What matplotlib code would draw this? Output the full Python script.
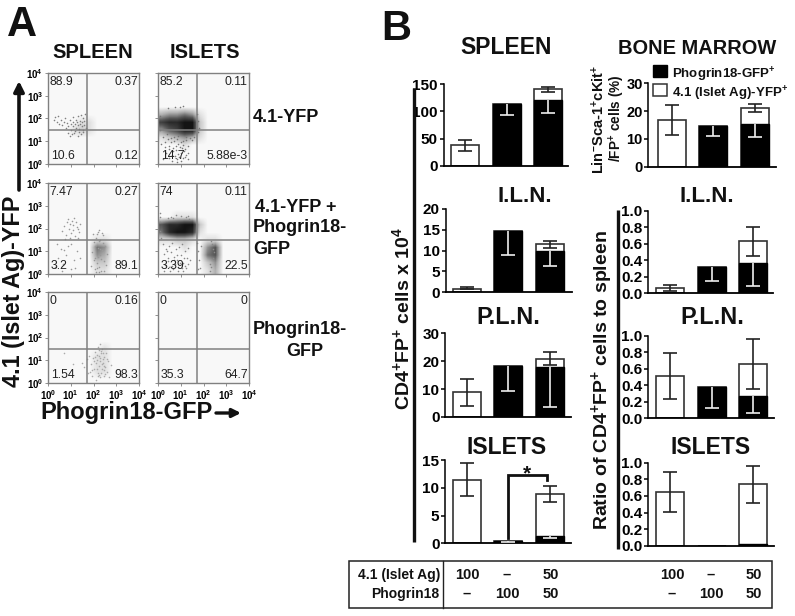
import matplotlib
matplotlib.use('Agg')
import numpy as np
from matplotlib import pyplot as plt
from matplotlib.colors import LinearSegmentedColormap
from matplotlib.patches import Rectangle

plt.rcParams['font.family'] = ['Liberation Sans', 'DejaVu Sans']
plt.rcParams['mathtext.fontset'] = 'custom'
plt.rcParams['mathtext.rm'] = 'Liberation Sans'
plt.rcParams['mathtext.bf'] = 'Liberation Sans:bold'
plt.rcParams['mathtext.it'] = 'Liberation Sans:italic'
plt.rcParams['mathtext.default'] = 'bf'

W, H = 795, 616

# percentages per quadrant: upper left, upper right, lower left, lower right
pct_spleen_a = ['88.9', '0.37', '10.6', '0.12']
pct_islets_a = ['85.2', '0.11', '14.7', '5.88e-3']
pct_spleen_b = ['7.47', '0.27', '3.2', '89.1']
pct_islets_b = ['74', '0.11', '3.39', '22.5']
pct_spleen_c = ['0', '0.16', '1.54', '98.3']
pct_islets_c = ['0', '0', '35.3', '64.7']

dens_spleen_a = ['000000000000', '000000000000', '000000000000', '000000000000', '000000000000',
                 '000000000000', '000011000000', '000121000000', '000000000000', '000000000000',
                 '000000000000', '000000000000']
dens_islets_a = ['000000000000', '000000000000', '000000000000', '000000000000', '000000000000',
                 '344541000000', '788992000000', '467992000000', '123431000000', '000100000000',
                 '000000000000', '000000000000']
dens_spleen_b = ['000000000000', '000000000000', '000000000000', '000000000000', '000000000000',
                 '000000000000', '000000000000', '000000110000', '000000540000', '000000430000',
                 '000000220000', '000000110000']
dens_islets_b = ['000000000000', '000000000000', '000000000000', '000000000000', '001110000000',
                 '688992000000', '589981000000', '112210110000', '000100460000', '000000560000',
                 '000000240000', '000000130000']
dens_spleen_c = ['000000000000', '000000000000', '000000000000', '000000000000', '000000000000',
                 '000000000000', '000000000000', '000000010000', '000000110000', '000000110000',
                 '000000110000', '000000000000']
dens_islets_c = ['000000000000'] * 12

# single dots around the clouds (log10 units)
dots_spleen_a_x = [.25, .32, .4, .45, .5, .55, .62, .7, .75, .8, .85, .9, .95, 1.0, 1.02, 1.08, 1.1, 1.12, 1.18,
                   1.2, 1.22, 1.25, 1.28, 1.3, 1.33, 1.35, 1.38, 1.4, 1.42, 1.45, 1.48, 1.5, 1.52, 1.55, 1.58,
                   1.6, 1.62, 1.65, 1.05, 1.15, 1.3, 1.44, 1.56, .88, .98]
dots_spleen_a_y = [1.95, 2.05, 1.85, 2.1, 1.75, 1.95, 1.7, 1.85, 2.0, 1.6, 1.8, 1.65, 1.95, 1.75, 1.5, 1.85, 1.65,
                   2.05, 1.45, 1.75, 1.95, 1.6, 1.85, 2.1, 1.7, 1.4, 1.55, 1.9, 1.75, 2.15, 1.65, 1.85, 1.5, 2.0,
                   1.7, 1.9, 2.2, 1.6, 1.3, 1.35, 1.25, 1.33, 1.42, 1.38, 1.22]
dots_islets_a_x = [.2, .3, .42, .5, .58, .66, .72, .8, .88, .95, 1.02, 1.1, 1.18, 1.25, 1.32, .35, .47, .6, .74, .84,
                   .92, 1.0, 1.08, 1.15, 1.22, .4, .55, .7, .82, .9, 1.05, 1.2, .3, .5, .65, .78, 1.0, 1.12, .6, 1.3,
                   1.75, 1.8, 1.72, 1.78, .1, .08, .12, .95, .45, .75, 1.1, .85, 1.3, 1.42, 1.5, 1.6, .2, .9, 1.25]
dots_islets_a_y = [1.2, .95, 1.1, .8, 1.15, .7, 1.0, .6, .9, .75, .5, .85, .65, 1.05, .8, .5, .65, .4, .35, 1.1,
                   .3, .95, .25, .55, .4, 1.3, .95, 1.2, .2, .45, .7, .3, .75, .25, .55, .8, .15, 1.0, .12, .5,
                   1.9, 1.6, 2.2, 1.4, 2.1, 1.5, .9, 2.5, 2.45, 2.5, 2.55, .1, .2, 1.15, 1.05, 1.2, .2, 1.25, 1.2]
dots_spleen_b_x = [.6, .7, .8, .85, .92, 1.0, 1.05, 1.12, 1.2, 1.28, 1.35, 1.42, .75, .88, .98, 1.1, 1.22, 1.32, .95,
                   1.15, 1.3, .3, .45, .55, .68, .8, .9, 1.02, 1.15, 1.28, .4, .6, .72, 1.0, 1.2, 1.4,
                   1.9, 1.95, 2.0, 2.05, 2.08, 2.1, 2.15, 2.18, 2.2, 2.25, 2.28, 2.3, 2.35, 2.38, 2.4, 2.45, 2.5, 2.55,
                   2.6, 1.98, 2.12, 2.22, 2.32, 2.42, 2.02, 2.16, 2.26, 2.36, 2.48, 2.05, 2.2, 2.3, 2.15, 2.25]
dots_spleen_b_y = [1.9, 2.1, 1.7, 2.3, 2.0, 1.8, 2.35, 2.15, 1.65, 2.05, 1.85, 2.2, 1.55, 2.4, 1.6, 1.95, 2.3, 1.6,
                   2.2, 2.45, 2.0, .3, .7, 1.1, .45, .85, 1.25, .2, .6, 1.0, 1.3, .15, 1.05, 1.3, .25, .7,
                   .35, .95, 1.4, .2, .7, 1.6, .5, 1.15, 1.85, .3, .85, 1.5, .15, 1.05, 1.7, .55, 1.25, .4,
                   .9, 1.75, .1, 1.95, .65, 1.35, .6, 1.75, .1, 1.8, .15, 1.25, .75, 1.1, .25, 1.45]
dots_islets_b_x = [.2, .28, .35, .42, .5, .56, .62, .7, .78, .85, .92, 1.0, 1.06, 1.12, 1.2, 1.26, 1.34, 1.4, .3, .46,
                   .6, .74, .88, 1.04, 1.18, 1.3, .38, .52, .68, .82, .96, 1.1, 1.24, .25, .48, .72, .9, 1.15,
                   .1, .08, .07, .11, .09, 1.3, .55, .78, 1.0, 1.25, 1.38, .66, .44,
                   1.75, 1.8, 1.85, 2.35, 2.4, 2.42, 2.38, 2.3, 2.45, 1.72, 1.78, 1.88, 2.3, 2.35]
dots_islets_b_y = [1.3, .9, 1.1, .7, 1.25, .95, 1.35, .75, 1.1, .6, 1.2, .85, 1.3, .5, 1.0, .7, 1.15, .6, .4, .55,
                   .35, .45, .3, .25, .35, .45, 1.0, .15, .2, .85, .5, .15, .25, .15, .3, .6, .12, .7,
                   2.3, 2.5, 2.7, 1.6, 1.9, 2.55, 2.5, 2.6, 2.55, 2.5, 2.4, 2.45, 2.45,
                   1.0, .6, .25, .3, .7, 1.1, 1.3, .15, .95, 1.35, .2, 1.25, .45, 1.45]
dots_spleen_c_x = [1.5, 1.6, 1.7, 1.75, 1.82, 1.88, 1.92, 1.98, 2.02, 2.05, 2.1, 2.12, 2.16, 2.2, 2.22, 2.25, 2.28, 2.3,
                   2.33, 2.36, 2.38, 2.42, 2.45, 2.48, 2.52, 2.55, 2.6, 2.65, 2.7, 2.78, 1.95, 2.08, 2.18, 2.27, 2.35,
                   2.44, 2.58, 2.0, 2.14, 2.24, 2.32, 2.4, 2.5, 1.85, 2.2, 2.3, 2.42, 2.15, 2.26, 2.36, 2.46, .7, 1.1]
dots_spleen_c_y = [.9, .7, 1.05, .45, 1.2, .85, .3, 1.1, .6, 1.35, .15, .9, 1.25, .45, 1.45, .75, 1.1, .25, 1.3, .6,
                   1.5, .9, .3, 1.15, .7, 1.3, .5, .95, .25, .8, .55, 1.15, .3, .95, 1.4, .55, 1.05, .95, .6, 1.2,
                   .45, 1.05, .4, .5, 1.6, 1.7, 1.3, 1.0, .35, .85, .75, 1.3, .85]

spleen_black = [0, 113, 121]
spleen_total = [38, 113, 140]
spleen_upper = [48, np.nan, 145]
spleen_lower = [28, np.nan, 136]
spleen_black_lower = [np.nan, 94, 97]

iln_black = [0, 14.8, 9.8]
iln_total = [0.9, 14.8, 11.5]
iln_upper = [1.2, np.nan, 12.3]
iln_lower = [0.7, np.nan, 10.6]
iln_black_lower = [np.nan, 9, 6.3]

pln_black = [0, 18.4, 17.8]
pln_total = [8.8, 18.4, 20.8]
pln_upper = [13.6, np.nan, 23.2]
pln_lower = [4, np.nan, 18.5]
pln_black_lower = [np.nan, 9.3, 3.7]

islets_black = [0, 0.4, 1.3]
islets_total = [11.4, 0.4, 8.9]
islets_upper = [14.4, np.nan, 10.3]
islets_lower = [8.5, np.nan, 7.5]
islets_black_lower = [np.nan, 0.3, 1.0]

bm_black = [0, 14.7, 15.3]
bm_total = [16.8, 14.7, 21]
bm_upper = [22.2, np.nan, 22.5]
bm_lower = [11.5, np.nan, 19.5]
bm_black_lower = [np.nan, 11, 10.7]

ratio_iln_black = [0, 0.32, 0.37]
ratio_iln_total = [0.07, 0.32, 0.63]
ratio_iln_upper = [0.10, np.nan, 0.80]
ratio_iln_lower = [0.03, np.nan, 0.45]
ratio_iln_black_lower = [np.nan, 0.15, 0.09]

ratio_pln_black = [0, 0.38, 0.27]
ratio_pln_total = [0.51, 0.38, 0.66]
ratio_pln_upper = [0.79, np.nan, 0.96]
ratio_pln_lower = [0.23, np.nan, 0.36]
ratio_pln_black_lower = [np.nan, 0.12, 0.07]

ratio_islets_black = [0, 0, 0.02]
ratio_islets_total = [0.65, 0, 0.74]
ratio_islets_upper = [0.89, np.nan, 0.96]
ratio_islets_lower = [0.41, np.nan, 0.51]
ratio_islets_black_lower = [np.nan, np.nan, np.nan]

row1_values = ['100', '\u2013', '50']
row2_values = ['\u2013', '100', '50']

fig = plt.figure(figsize=(W / 100, H / 100), dpi=100)
facs_cmap = LinearSegmentedColormap.from_list('facs', ['#f8f8f8', '#b0b0b0', '#555555', '#141414'])


def box(l, t, r, b):
    # axes placed with pixel coordinates of the picture
    return fig.add_axes([l / W, 1 - b / H, (r - l) / W, (b - t) / H])


def facs_panel(l, t, pct, dens, dots=None, dot_color='#888888', gate_x=1.7, gate_y=1.5,
               show_x=False, show_y=False):
    ax = box(l, t, l + 91, t + 91)
    grid = np.array([[int(c) for c in row] for row in dens])
    ax.imshow(grid, extent=[0, 4, 0, 4], cmap=facs_cmap, vmin=0, vmax=9,
              interpolation='bilinear', aspect='auto', zorder=1)
    if dots is not None:
        ax.scatter(dots[0], dots[1], s=1.3, color=dot_color, linewidths=0, zorder=2)
    ax.axvline(gate_x, color='#808080', lw=1.1, zorder=2)
    ax.axhline(gate_y, color='#808080', lw=1.1, zorder=2)
    ax.set_xlim(0, 4)
    ax.set_ylim(0, 4)
    for s in ax.spines.values():
        s.set_color('#808080')
        s.set_linewidth(1.0)
    ax.set_xticks(range(5))
    ax.set_yticks(range(5))
    ax.set_xticklabels(['$10^{%d}$' % i for i in range(5)] if show_x else [], fontsize=7)
    ax.set_yticklabels(['$10^{%d}$' % i for i in range(5)] if show_y else [], fontsize=7)
    ax.tick_params(length=2, width=0.6, color='#808080', pad=1.5)
    ax.text(0.06, 3.62, pct[0], fontsize=8.8, color='#222222', ha='left', va='center', zorder=3)
    ax.text(3.95, 3.62, pct[1], fontsize=8.8, color='#222222', ha='right', va='center', zorder=3)
    ax.text(0.12, 0.36, pct[2], fontsize=8.8, color='#222222', ha='left', va='center', zorder=3)
    ax.text(3.95, 0.36, pct[3], fontsize=8.8, color='#222222', ha='right', va='center', zorder=3)


def bar_panel(l, t, r, b, centers, ymax, ticks, black, total, upper, lower, black_lower,
              fmt='%d', width=28, tick_size=11):
    ax = box(l, t, r, b)
    step = (centers[2] - centers[0]) / 2
    ax.set_xlim((l - centers[0]) / step, (r - centers[0]) / step)
    ax.set_ylim(0, ymax)
    x = np.arange(3)
    w = width / step
    total = np.array(total, dtype=float)
    black = np.array(black, dtype=float)
    upper = np.array(upper, dtype=float)
    lower = np.array(lower, dtype=float)
    black_lower = np.array(black_lower, dtype=float)
    ax.bar(x, total, width=w, color='white', edgecolor='#333333', linewidth=1.2, zorder=1)
    ax.bar(x, black, width=w, color='black', edgecolor='black', linewidth=1.0, zorder=2)
    # whiskers only where the picture has them
    ok = ~np.isnan(upper)
    ax.errorbar(x[ok], total[ok], yerr=[total[ok] - lower[ok], upper[ok] - total[ok]], fmt='none',
                ecolor='#222222', elinewidth=1.2, capsize=5, capthick=1.2, zorder=3)
    ok = ~np.isnan(black_lower)
    ax.vlines(x[ok], black_lower[ok], black[ok], color='#eeeeee', lw=1.2, zorder=3)
    ax.plot(x[ok], black_lower[ok], ls='none', marker='_', ms=10, mew=1.2, color='#eeeeee', zorder=3)
    for s in ['top', 'right']:
        ax.spines[s].set_visible(False)
    ax.spines['left'].set_linewidth(1.1)
    ax.spines['bottom'].set_linewidth(1.3)
    ax.set_xticks([])
    ax.set_yticks(ticks)
    ax.set_yticklabels([fmt % v for v in ticks], fontsize=tick_size, fontweight='bold')
    ax.tick_params(axis='y', length=3, width=1.1, pad=1)
    ax.patch.set_alpha(0)
    return ax


# panel A
facs_panel(48, 73, pct_spleen_a, dens_spleen_a, (dots_spleen_a_x, dots_spleen_a_y), '#808080', show_y=True)
facs_panel(158, 73, pct_islets_a, dens_islets_a, (dots_islets_a_x, dots_islets_a_y), '#777777')
facs_panel(48, 183, pct_spleen_b, dens_spleen_b, (dots_spleen_b_x, dots_spleen_b_y), '#999999', show_y=True)
facs_panel(158, 183, pct_islets_b, dens_islets_b, (dots_islets_b_x, dots_islets_b_y), '#888888')
facs_panel(48, 292, pct_spleen_c, dens_spleen_c, (dots_spleen_c_x, dots_spleen_c_y), '#aaaaaa', show_x=True, show_y=True)
facs_panel(158, 292, pct_islets_c, dens_islets_c, show_x=True)

# panel B, left column
c1 = [465, 506.5, 548]
c2 = [466.5, 508, 549.5]
c3 = [671.7, 713.5, 755]
c4 = [670.3, 711.6, 753]
bar_panel(443.5, 84, 568, 166, c1, 150, [0, 50, 100, 150],
          spleen_black, spleen_total, spleen_upper, spleen_lower, spleen_black_lower)
bar_panel(445.5, 209, 571.5, 292.3, c2, 20, [0, 5, 10, 15, 20],
          iln_black, iln_total, iln_upper, iln_lower, iln_black_lower)
bar_panel(445, 333.3, 571, 417, c2, 30, [0, 10, 20, 30],
          pln_black, pln_total, pln_upper, pln_lower, pln_black_lower)
bar_panel(445, 460, 571, 543.3, c2, 15, [0, 5, 10, 15],
          islets_black, islets_total, islets_upper, islets_lower, islets_black_lower)

# panel B, right column
ratio_ticks = [0, 0.2, 0.4, 0.6, 0.8, 1.0]
bar_panel(648.3, 83.3, 776, 166.7, c3, 30, [0, 10, 20, 30],
          bm_black, bm_total, bm_upper, bm_lower, bm_black_lower, tick_size=10.5)
bar_panel(648.3, 211, 773, 293.3, c4, 1.0, ratio_ticks,
          ratio_iln_black, ratio_iln_total, ratio_iln_upper, ratio_iln_lower, ratio_iln_black_lower, fmt='%.1f')
bar_panel(648.3, 335.7, 774.3, 418.3, c4, 1.0, ratio_ticks,
          ratio_pln_black, ratio_pln_total, ratio_pln_upper, ratio_pln_lower, ratio_pln_black_lower, fmt='%.1f')
bar_panel(648.3, 462.7, 774.3, 545.7, c4, 1.0, ratio_ticks,
          ratio_islets_black, ratio_islets_total, ratio_islets_upper, ratio_islets_lower,
          ratio_islets_black_lower, fmt='%.1f')

# everything else goes on a transparent overlay in pixel coordinates
ov = fig.add_axes([0, 0, 1, 1], zorder=10)
ov.set_xlim(0, W)
ov.set_ylim(H, 0)
ov.axis('off')


def label(x, y, s, size, ha='center', rot=0, weight='bold'):
    ov.text(x, y, s, fontsize=size, fontweight=weight, ha=ha, va='center', rotation=rot,
            rotation_mode='anchor', color='#111111')


label(22, 25, 'A', 30)
label(396, 29, 'B', 30)

label(93, 52, 'SPLEEN', 14.5)
label(205, 52, 'ISLETS', 14.5)
label(253, 117, '4.1-YFP', 13, ha='left')
label(296, 207, '4.1-YFP +', 13)
label(253, 228, 'Phogrin18-', 13, ha='left')
label(253, 249, 'GFP', 13, ha='left')
label(253, 330, 'Phogrin18-', 13, ha='left')
label(305, 352, 'GFP', 13)

label(14, 291, '4.1 (Islet Ag)-YFP', 16.8, rot=90)
label(127, 413, 'Phogrin18-GFP', 17)
ov.annotate('', xy=(19, 81), xytext=(19, 190),
            arrowprops=dict(arrowstyle='-|>,head_width=0.3,head_length=0.6', lw=2.6, color='#111111', shrinkA=0, shrinkB=0))
ov.annotate('', xy=(241, 413), xytext=(216, 413),
            arrowprops=dict(arrowstyle='-|>,head_width=0.25,head_length=0.5', lw=2.4, color='#111111', shrinkA=0, shrinkB=0))

label(506, 48, 'SPLEEN', 16.5)
label(697, 49, 'BONE MARROW', 14.4)
label(525, 197, 'I.L.N.', 16)
label(707, 197, 'I.L.N.', 16)
label(508, 317, 'P.L.N.', 16.8)
label(712, 317, 'P.L.N.', 16.8)
label(507, 448, 'ISLETS', 16.5)
label(711, 448, 'ISLETS', 16.5)

label(402, 318, 'CD4$^{+}$FP$^{+}$ cells x 10$^{4}$', 14, rot=90)
label(602, 380, 'Ratio of CD4$^{+}$FP$^{+}$ cells to spleen', 14, rot=90)
label(599, 119, 'Lin$^{-}$Sca-1$^{+}$cKit$^{+}$', 10.5, rot=90)
label(617, 118, '/FP$^{+}$ cells (%)', 9.8, rot=90)

ov.plot([414, 414], [88, 542], color='#111111', lw=2.4, solid_capstyle='butt')
ov.plot([618, 618], [210, 549], color='#111111', lw=2.4, solid_capstyle='butt')

# legend
ov.add_patch(Rectangle((653, 65), 14, 12, fc='black', ec='black', lw=1))
ov.add_patch(Rectangle((653, 84), 14, 12, fc='white', ec='#333333', lw=1.1))
label(672, 75, 'Phogrin18-GFP$^{+}$', 9.5, ha='left')
label(672, 94, '4.1 (Islet Ag)-YFP$^{+}$', 9.5, ha='left')

# significance bracket
ov.plot([508, 508, 547, 547], [538, 475, 475, 480], color='#111111', lw=2, solid_joinstyle='miter')
label(527, 474, '*', 15)

# table under the bars
ov.add_patch(Rectangle((348.5, 561), 423, 46.5, fc='none', ec='#222222', lw=1.1))
ov.plot([443.3, 443.3], [561, 607.5], color='#222222', lw=1)
label(440, 575, '4.1 (Islet Ag)', 10, ha='right')
label(439, 594, 'Phogrin18', 10, ha='right')
for x, a, b in zip([467, 507, 551], row1_values, row2_values):
    label(x, 575, a, 10.5)
    label(x, 594, b, 10.5)
for x, a, b in zip([672, 711, 754], row1_values, row2_values):
    label(x, 575, a, 10.5)
    label(x, 594, b, 10.5)

fig.savefig('out.png', dpi=100)
